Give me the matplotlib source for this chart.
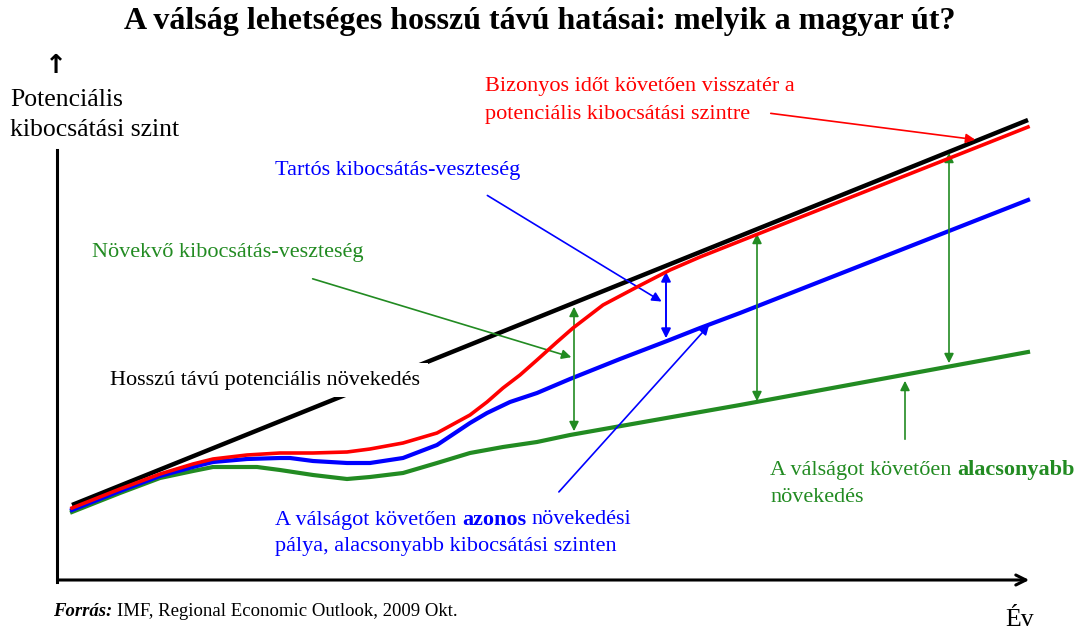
import matplotlib.pyplot as plt

plt.rcParams['font.family'] = ['Liberation Serif', 'DejaVu Serif']

# Schematic curves (x = time, y = output level, in picture units)
black_x = [72, 1028]
black_y = [125, 510]

red_x = [72, 120, 160, 193, 213, 247, 280, 313, 347, 370, 403, 437, 470, 487, 503, 520,
         537, 557, 573, 603, 637, 670, 700, 1028]
red_y = [122, 141, 156, 166, 171, 175, 177, 177, 178, 181, 187, 197, 215, 228, 242, 255,
         270, 288, 302, 325, 343, 360, 373, 503]

blue_x = [72, 120, 160, 193, 213, 247, 280, 290, 313, 347, 370, 403, 437, 470, 487, 510,
          537, 570, 620, 667, 700, 740, 1028]
blue_y = [120, 139, 154, 163, 168, 171, 172, 172, 169, 167, 167, 172, 185, 207, 217, 228,
          237, 251, 271, 289, 302, 317, 430]

green_x = [72, 120, 160, 193, 213, 257, 280, 313, 347, 370, 403, 437, 470, 503, 537, 570,
           740, 1028]
green_y = [118, 137, 152, 159, 163, 163, 160, 155, 151, 153, 157, 167, 177, 183, 188, 195,
           225, 278]

H = 630
RED = '#ff0000'
BLUE = '#0000ff'
GREEN = '#228b22'
FS = 16

fig = plt.figure(figsize=(10.8, 6.3), dpi=100)
ax = fig.add_axes([0, 0, 1, 1])
ax.set_xlim(0, 1080)
ax.set_ylim(0, H)
ax.axis('off')
renderer = fig.canvas.get_renderer()


def chain(x, y, parts, color, fs=FS):
    # write text pieces one after another on one line
    for s, bold, italic in parts:
        t = ax.text(x, y, s, color=color, fontsize=fs, va='center', ha='left',
                    fontweight='bold' if bold else 'normal',
                    style='italic' if italic else 'normal', zorder=6)
        bb = t.get_window_extent(renderer)
        x = ax.transData.inverted().transform((bb.x1, bb.y0))[0] + fs * 0.25 * 100 / 72


ax.plot(black_x, black_y, color='black', lw=3.2, solid_capstyle='butt', zorder=3)
ax.plot(green_x, green_y, color=GREEN, lw=3, zorder=3, solid_joinstyle='round')
ax.plot(blue_x, blue_y, color=BLUE, lw=3, zorder=3, solid_joinstyle='round')
ax.plot(red_x, red_y, color=RED, lw=2.6, zorder=4, solid_joinstyle='round')

# axes of the sketch
ax.plot([57, 57], [H - 150, H - 582], color='black', lw=2.2)
ax.annotate('', xy=(1032, H - 580), xytext=(56, H - 580),
            arrowprops=dict(arrowstyle='->', lw=2.2, color='black', mutation_scale=18))
ax.text(56, H - 66, '↑', ha='center', va='center', fontsize=19, fontweight='bold',
        family=['DejaVu Sans'])

ax.text(540, H - 22, 'A válság lehetséges hosszú távú hatásai: melyik a magyar út?',
        ha='center', va='center', fontsize=23, fontweight='bold')
ax.text(10, H - 100, 'Potenciális', ha='left', va='center', fontsize=18.5)
ax.text(10, H - 130, 'kibocsátási szint', ha='left', va='center', fontsize=18.5)
ax.text(1005, H - 620, 'Év', ha='left', va='center', fontsize=18.5)
chain(53, H - 612, [('Forrás:', True, True),
                    ('IMF, Regional Economic Outlook, 2009 Okt.', False, False)],
      'black', fs=13.5)

# red label
ax.text(485, H - 87, 'Bizonyos időt követően visszatér a', color=RED, fontsize=FS, va='center')
ax.text(485, H - 115, 'potenciális kibocsátási szintre', color=RED, fontsize=FS, va='center')
ax.annotate('', xy=(978, H - 140), xytext=(768, H - 113),
            arrowprops=dict(arrowstyle='-|>', color=RED, lw=1.2, mutation_scale=14))

# blue labels
ax.text(275, H - 170, 'Tartós kibocsátás-veszteség', color=BLUE, fontsize=FS, va='center')
ax.annotate('', xy=(664, H - 303), xytext=(485, H - 194),
            arrowprops=dict(arrowstyle='-|>', color=BLUE, lw=1.2, mutation_scale=14))
ax.annotate('', xy=(666, H - 269), xytext=(666, H - 341),
            arrowprops=dict(arrowstyle='<|-|>', color=BLUE, lw=1.4, mutation_scale=14))
chain(275, H - 520, [('A válságot követően', False, False), ('azonos', True, False),
                     ('növekedési', False, False)], BLUE)
ax.text(275, H - 546, 'pálya, alacsonyabb kibocsátási szinten', color=BLUE, fontsize=FS,
        va='center')
ax.annotate('', xy=(711, H - 323), xytext=(557, H - 494),
            arrowprops=dict(arrowstyle='-|>', color=BLUE, lw=1.2, mutation_scale=14))

# green labels
ax.text(92, H - 252, 'Növekvő kibocsátás-veszteség', color=GREEN, fontsize=FS, va='center')
ax.annotate('', xy=(574, H - 358), xytext=(310, H - 278),
            arrowprops=dict(arrowstyle='-|>', color=GREEN, lw=1.2, mutation_scale=14))
for gx, top, bottom in [(574, 304, 434), (757, 231, 404), (949, 150, 366)]:
    ax.annotate('', xy=(gx, H - top), xytext=(gx, H - bottom),
                arrowprops=dict(arrowstyle='<|-|>', color=GREEN, lw=1.2, mutation_scale=14))
ax.annotate('', xy=(905, H - 378), xytext=(905, H - 442),
            arrowprops=dict(arrowstyle='-|>', color=GREEN, lw=1.2, mutation_scale=14))
chain(770, H - 470, [('A válságot követően', False, False), ('alacsonyabb', True, False)], GREEN)
ax.text(770, H - 497, 'növekedés', color=GREEN, fontsize=FS, va='center')

# label sits on a white patch that hides part of the black line
ax.text(110, H - 380, 'Hosszú távú potenciális növekedés', color='black', fontsize=FS,
        va='center', zorder=5,
        bbox=dict(boxstyle='square,pad=0.35', fc='white', ec='none'))

fig.savefig('out.png', dpi=100)
